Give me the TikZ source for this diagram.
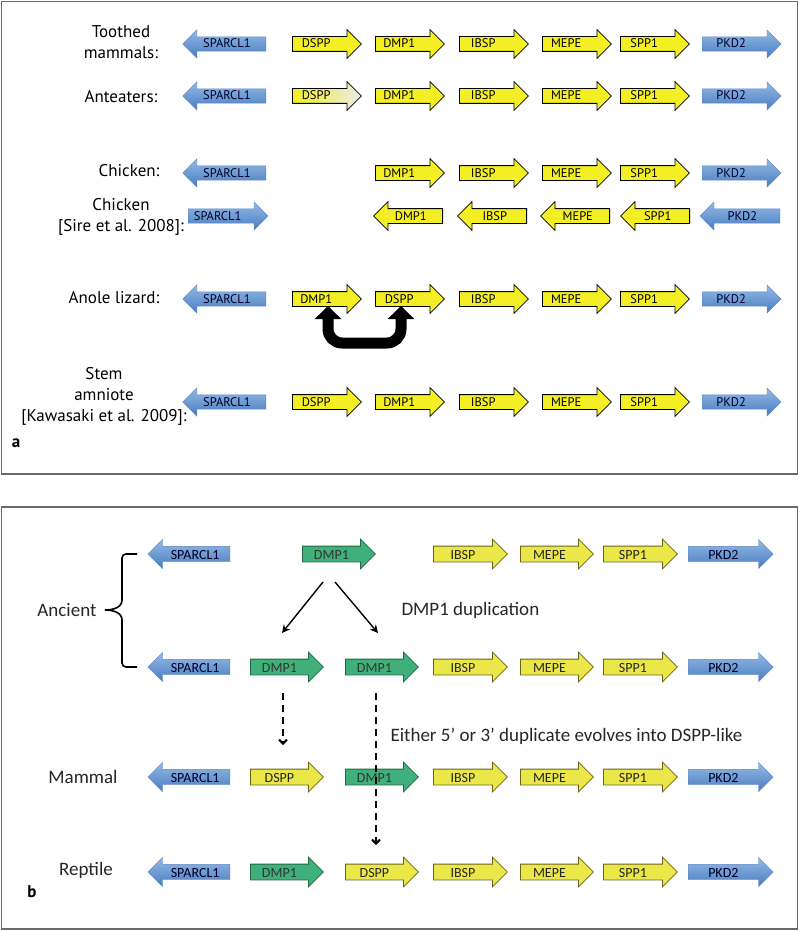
\documentclass[tikz,border=0pt]{standalone}
\usepackage{fontspec}
\usetikzlibrary{shapes.arrows,arrows.meta,calc}
\newfontfamily\figa{PT Sans}
\newfontfamily\figb{Carlito}
\definecolor{yela}{RGB}{244,239,36}
\definecolor{yelb}{RGB}{236,231,72}
\definecolor{yeledge}{RGB}{105,100,25}
\definecolor{grnb}{RGB}{64,176,122}
\definecolor{grnedge}{RGB}{32,105,65}
\definecolor{blutop}{RGB}{148,186,230}
\definecolor{blubot}{RGB}{72,124,192}
\definecolor{bluedge}{RGB}{95,135,195}
\definecolor{framecol}{RGB}{105,105,105}

\begin{document}
\begin{tikzpicture}[x=1pt,y=-1pt,
    gena/.style={single arrow, single arrow head extend=7pt, anchor=tail,
      minimum height=69pt, inner xsep=1pt, inner ysep=3pt, text height=8pt, text depth=0pt,
      line width=0.8pt, font=\figa\fontsize{12.5}{13}\selectfont,
      execute at end node={\hspace{14pt}}},
    genb/.style={single arrow, single arrow head extend=7pt, anchor=tail,
      minimum height=74pt, inner xsep=1pt, inner ysep=2.5pt, text height=10pt, text depth=0pt,
      line width=0.8pt, font=\figb\fontsize{14}{15}\selectfont,
      execute at end node={\hspace{7pt}}},
    rev/.style={shape border rotate=180, execute at end node={},
      execute at begin node={\hspace{12pt}}},
    yel/.style={fill=yela, draw=black},
    yelB/.style={fill=yelb, draw=yeledge, text=black!85},
    grn/.style={fill=grnb, draw=grnedge, text=black!80},
    blu/.style={draw=bluedge, line width=0.4pt, top color=blutop, bottom color=blubot, text=black!85!blue},
    lbla/.style={align=center, font=\figa\fontsize{17}{21}\selectfont},
    lblb/.style={font=\figb\fontsize{19}{22}\selectfont, text=black!85},
    frame/.style={draw=framecol, line width=1.5pt},
    uturn/.style={line width=11pt, rounded corners=14pt,
      {Triangle[width=26pt,length=13pt]}-{Triangle[width=26pt,length=13pt]}},
    dup/.style={line width=1.4pt, -{Stealth[length=8pt,width=8pt]}},
    evo/.style={line width=2pt, dash pattern=on 7pt off 5pt, -{Straight Barb[length=4pt,width=8pt]}}]

    \useasboundingbox (0,0) rectangle (800,931);

    % panel a
    \draw[frame] (1.5,1.5) rectangle (797.5,474);

    % toothed mammals
    \node[lbla] (lTooth) at (121,42) {Toothed\\mammals:};
    \node[gena,blu,rev,minimum height=80pt] (tmSPARCL1) at (266,44) {SPARCL1};
    \node[gena,yel] (tmDSPP) at (292,44) {DSPP};
    \node[gena,yel] (tmDMP1) at (375,44) {DMP1};
    \node[gena,yel] (tmIBSP) at (459,44) {IBSP};
    \node[gena,yel] (tmMEPE) at (542,44) {MEPE};
    \node[gena,yel] (tmSPP1) at (620,44) {SPP1};
    \node[gena,blu,minimum height=79pt] (tmPKD2) at (702,44) {PKD2};

    % anteaters
    \node[lbla] (lAnt) at (121,97) {Anteaters:};
    \node[gena,blu,rev,minimum height=80pt] (atSPARCL1) at (266,96) {SPARCL1};
    \node[gena,draw=black,left color=yela,right color=black!8] (atDSPP) at (292,96) {DSPP};
    \node[gena,yel] (atDMP1) at (375,96) {DMP1};
    \node[gena,yel] (atIBSP) at (459,96) {IBSP};
    \node[gena,yel] (atMEPE) at (542,96) {MEPE};
    \node[gena,yel] (atSPP1) at (620,96) {SPP1};
    \node[gena,blu,minimum height=79pt] (atPKD2) at (702,96) {PKD2};

    % chicken
    \node[lbla] (lChk) at (129,171) {Chicken:};
    \node[gena,blu,rev,minimum height=80pt] (chSPARCL1) at (266,173) {SPARCL1};
    \node[gena,yel] (chDMP1) at (375,173) {DMP1};
    \node[gena,yel] (chIBSP) at (459,173) {IBSP};
    \node[gena,yel] (chMEPE) at (542,173) {MEPE};
    \node[gena,yel] (chSPP1) at (620,173) {SPP1};
    \node[gena,blu,minimum height=79pt] (chPKD2) at (702,173) {PKD2};

    % chicken, Sire et al.
    \node[lbla] (lSire) at (121,217) {Chicken\\{[}Sire et al. 2008]:};
    \node[gena,blu,minimum height=80pt] (siSPARCL1) at (188,216) {SPARCL1};
    \node[gena,yel,rev] (siDMP1) at (443,216) {DMP1};
    \node[gena,yel,rev] (siIBSP) at (527,216) {IBSP};
    \node[gena,yel,rev] (siMEPE) at (610,216) {MEPE};
    \node[gena,yel,rev] (siSPP1) at (690,216) {SPP1};
    \node[gena,blu,rev,minimum height=80pt] (siPKD2) at (780,216) {PKD2};

    % anole lizard
    \node[lbla] (lAnole) at (114,298) {Anole lizard:};
    \node[gena,blu,rev,minimum height=80pt] (anSPARCL1) at (266,299) {SPARCL1};
    \node[gena,yel] (anDMP1) at (292,299) {DMP1};
    \node[gena,yel] (anDSPP) at (375,299) {DSPP};
    \node[gena,yel] (anIBSP) at (459,299) {IBSP};
    \node[gena,yel] (anMEPE) at (542,299) {MEPE};
    \node[gena,yel] (anSPP1) at (620,299) {SPP1};
    \node[gena,blu,minimum height=79pt] (anPKD2) at (702,299) {PKD2};
    \draw[uturn] ($(anDMP1.tail)+(36,7)$) -- ++(0,37) -| ($(anDSPP.tail)+(26,7)$);

    % stem amniote
    \node[lbla] (lStem) at (104,396) {Stem\\amniote\\{[}Kawasaki et al. 2009]:};
    \node[gena,blu,rev,minimum height=80pt] (stSPARCL1) at (266,402) {SPARCL1};
    \node[gena,yel] (stDSPP) at (292,402) {DSPP};
    \node[gena,yel] (stDMP1) at (375,402) {DMP1};
    \node[gena,yel] (stIBSP) at (459,402) {IBSP};
    \node[gena,yel] (stMEPE) at (542,402) {MEPE};
    \node[gena,yel] (stSPP1) at (620,402) {SPP1};
    \node[gena,blu,minimum height=79pt] (stPKD2) at (702,402) {PKD2};

    \node[font=\figa\bfseries\fontsize{17}{20}\selectfont] (la) at (16,443) {a};

    % panel b
    \draw[frame] (1.5,507) rectangle (797.5,929);

    % ancient, before duplication
    \node[genb,blu,rev,minimum height=82pt] (b1SPARCL1) at (230,554) {SPARCL1};
    \node[genb,grn,minimum height=73pt] (b1DMP1) at (302,554) {DMP1};
    \node[genb,yelB] (b1IBSP) at (433,554) {IBSP};
    \node[genb,yelB,minimum height=73pt] (b1MEPE) at (520,554) {MEPE};
    \node[genb,yelB] (b1SPP1) at (603,554) {SPP1};
    \node[genb,blu,minimum height=85pt] (b1PKD2) at (688,554) {PKD2};

    % ancient, after duplication
    \node[genb,blu,rev,minimum height=82pt] (b2SPARCL1) at (230,667) {SPARCL1};
    \node[genb,grn,minimum height=73pt] (b2DMP1a) at (250,667) {DMP1};
    \node[genb,grn,minimum height=73pt] (b2DMP1b) at (345,667) {DMP1};
    \node[genb,yelB] (b2IBSP) at (433,667) {IBSP};
    \node[genb,yelB,minimum height=73pt] (b2MEPE) at (520,667) {MEPE};
    \node[genb,yelB] (b2SPP1) at (603,667) {SPP1};
    \node[genb,blu,minimum height=85pt] (b2PKD2) at (688,667) {PKD2};

    % mammal
    \node[lblb] (lMam) at (83,777) {Mammal};
    \node[genb,blu,rev,minimum height=82pt] (b3SPARCL1) at (230,777) {SPARCL1};
    \node[genb,yelB,minimum height=73pt] (b3DSPP) at (250,777) {DSPP};
    \node[genb,grn,minimum height=73pt] (b3DMP1) at (345,777) {DMP1};
    \node[genb,yelB] (b3IBSP) at (433,777) {IBSP};
    \node[genb,yelB,minimum height=73pt] (b3MEPE) at (520,777) {MEPE};
    \node[genb,yelB] (b3SPP1) at (603,777) {SPP1};
    \node[genb,blu,minimum height=85pt] (b3PKD2) at (688,777) {PKD2};

    % reptile
    \node[lblb] (lRep) at (86,870) {Reptile};
    \node[genb,blu,rev,minimum height=82pt] (b4SPARCL1) at (230,872) {SPARCL1};
    \node[genb,grn,minimum height=73pt] (b4DMP1) at (250,872) {DMP1};
    \node[genb,yelB,minimum height=73pt] (b4DSPP) at (345,872) {DSPP};
    \node[genb,yelB] (b4IBSP) at (433,872) {IBSP};
    \node[genb,yelB,minimum height=73pt] (b4MEPE) at (520,872) {MEPE};
    \node[genb,yelB] (b4SPP1) at (603,872) {SPP1};
    \node[genb,blu,minimum height=85pt] (b4PKD2) at (688,872) {PKD2};

    % brace
    \coordinate (brTip) at (105,610);
    \draw[line width=1.6pt] (137,554) -- (126,554) to[out=180,in=90] (122,558) -- (122,600)
      .. controls (122,607) and (114,610) .. (brTip)
      .. controls (114,610) and (122,613) .. (122,620) -- (122,663)
      to[out=-90,in=180] (126,667) -- (137,667);
    \node[lblb,anchor=east] (lAnc) at ($(brTip)+(-5,0)$) {Ancient};

    % duplication
    \draw[dup] ($(b1DMP1.tail)+(21,28)$) -- ($(b2DMP1a.tail)+(32,-34)$);
    \draw[dup] ($(b1DMP1.tail)+(33,28)$) -- ($(b2DMP1b.tail)+(33,-34)$);
    \node[lblb,anchor=west] (lDup) at (398,610) {DMP1 duplication};

    % evolution into DSPP
    \draw[evo] ($(b2DMP1a.tail)+(33,26)$) -- ($(b3DSPP.tail)+(33,-32)$);
    \draw[evo] ($(b2DMP1b.tail)+(31,26)$) -- ($(b4DSPP.tail)+(31,-27)$);
    \node[lblb,anchor=west] (lEither) at (387,736) {Either 5’ or 3’ duplicate evolves into DSPP-like};

    \node[font=\figa\bfseries\fontsize{17}{20}\selectfont] (lb) at (32,892) {b};
\end{tikzpicture}
\end{document}
